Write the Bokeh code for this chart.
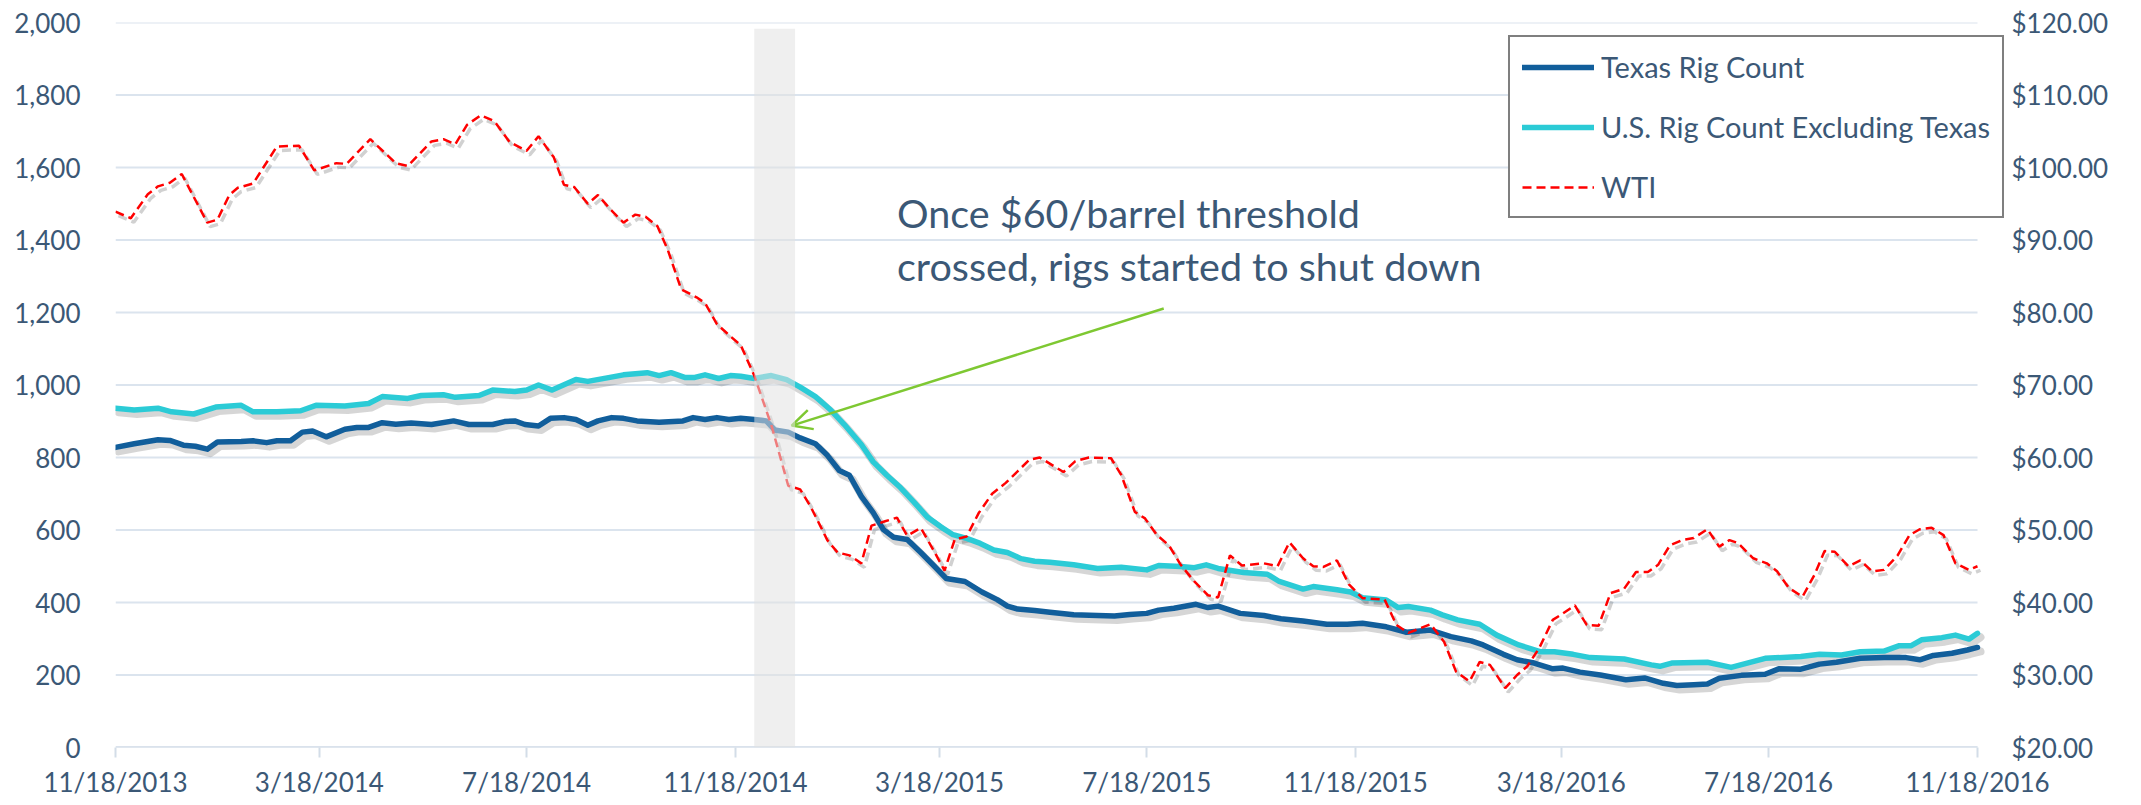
import pandas as pd
from bokeh.plotting import figure
from bokeh.models import (Range1d, LinearAxis, FixedTicker, NumeralTickFormatter,
                          Legend, LegendItem, Label, Arrow, OpenHead, BoxAnnotation)
from bokeh.embed import file_html
from bokeh.resources import INLINE

# ---------------- data ----------------
texas_dates = ["2013-11-18","2013-11-29","2013-12-13","2013-12-20","2013-12-28","2014-01-04","2014-01-11","2014-01-17",
               "2014-01-31","2014-02-07","2014-02-15","2014-02-21","2014-03-01","2014-03-08","2014-03-14","2014-03-22",
               "2014-04-02","2014-04-09","2014-04-16","2014-04-24","2014-05-02","2014-05-11","2014-05-23","2014-06-05",
               "2014-06-14","2014-06-28","2014-07-05","2014-07-11","2014-07-17","2014-07-25","2014-08-01","2014-08-09",
               "2014-08-16","2014-08-23","2014-08-29","2014-09-06","2014-09-13","2014-09-21","2014-10-04","2014-10-18",
               "2014-10-24","2014-10-31","2014-11-07","2014-11-14","2014-11-21","2014-11-29","2014-12-06","2014-12-11",
               "2014-12-19","2014-12-26","2015-01-04","2015-01-11","2015-01-18","2015-01-24","2015-01-31","2015-02-07",
               "2015-02-13","2015-02-19","2015-02-27","2015-03-07","2015-03-15","2015-03-22","2015-04-02","2015-04-12",
               "2015-04-21","2015-04-27","2015-05-03","2015-05-13","2015-05-22","2015-06-05","2015-06-19","2015-06-29",
               "2015-07-08","2015-07-18","2015-07-25","2015-08-03","2015-08-16","2015-08-23","2015-08-29","2015-09-11",
               "2015-09-25","2015-10-05","2015-10-18","2015-11-01","2015-11-13","2015-11-22","2015-12-06","2015-12-18",
               "2016-01-01","2016-01-13","2016-01-25","2016-02-01","2016-02-13","2016-02-21","2016-03-02","2016-03-13",
               "2016-03-19","2016-03-29","2016-04-10","2016-04-25","2016-05-06","2016-05-17","2016-05-25","2016-06-04",
               "2016-06-12","2016-06-19","2016-07-02","2016-07-16","2016-07-24","2016-08-06","2016-08-17","2016-08-27",
               "2016-09-10","2016-09-24","2016-10-07","2016-10-15","2016-10-23","2016-11-03","2016-11-12","2016-11-18"]
texas_rigs = [828,838,849,847,834,831,823,843,
              844,846,841,846,846,870,873,857,
              878,883,883,896,892,895,891,901,
              891,891,899,901,891,887,908,910,
              905,889,901,910,908,901,897,901,
              910,905,910,905,908,905,901,876,
              870,854,838,806,764,751,693,648,
              601,580,574,538,500,466,458,429,
              408,390,382,378,373,366,364,363,
              367,370,379,384,395,386,390,370,
              364,355,349,340,340,343,333,318,
              324,306,294,283,257,242,233,217,
              219,208,200,187,192,177,171,173,
              175,191,199,202,217,216,230,235,
              246,248,248,242,254,260,269,276]

usx_dates = ["2013-11-18","2013-11-29","2013-12-13","2013-12-21","2014-01-03","2014-01-16","2014-01-31","2014-02-07",
             "2014-02-21","2014-03-07","2014-03-16","2014-04-02","2014-04-16","2014-04-24","2014-05-09","2014-05-17",
             "2014-05-30","2014-06-06","2014-06-20","2014-06-28","2014-07-11","2014-07-18","2014-07-25","2014-08-02",
             "2014-08-16","2014-08-23","2014-09-05","2014-09-13","2014-09-27","2014-10-04","2014-10-11","2014-10-19",
             "2014-10-25","2014-10-31","2014-11-08","2014-11-15","2014-11-21","2014-11-29","2014-12-09","2014-12-18",
             "2014-12-26","2015-01-04","2015-01-13","2015-01-21","2015-01-31","2015-02-07","2015-02-15","2015-02-23",
             "2015-03-03","2015-03-11","2015-03-19","2015-03-26","2015-04-03","2015-04-11","2015-04-19","2015-04-27",
             "2015-05-05","2015-05-13","2015-05-22","2015-06-05","2015-06-19","2015-07-03","2015-07-18","2015-07-25",
             "2015-08-07","2015-08-15","2015-08-22","2015-08-29","2015-09-13","2015-09-27","2015-10-04","2015-10-18",
             "2015-10-24","2015-11-07","2015-11-15","2015-11-22","2015-12-06","2015-12-13","2015-12-19","2016-01-01",
             "2016-01-08","2016-01-17","2016-01-30","2016-02-09","2016-02-22","2016-03-06","2016-03-14","2016-03-25",
             "2016-04-04","2016-04-24","2016-05-10","2016-05-15","2016-05-22","2016-06-12","2016-06-26","2016-07-16",
             "2016-08-06","2016-08-17","2016-08-30","2016-09-10","2016-09-24","2016-10-03","2016-10-10","2016-10-16",
             "2016-10-28","2016-11-05","2016-11-13","2016-11-18"]
usx_rigs = [936,931,936,926,920,939,944,926,
            926,929,944,942,949,968,963,971,
            973,966,971,986,982,986,1000,986,
            1015,1010,1021,1028,1034,1026,1034,1021,
            1021,1028,1018,1026,1024,1018,1026,1015,
            994,968,931,891,836,788,751,717,
            677,635,608,587,577,563,545,538,
            521,514,511,504,494,497,490,502,
            499,496,504,494,483,478,458,437,
            444,435,429,413,407,386,389,379,
            366,352,340,310,283,264,264,257,
            248,244,228,224,233,235,221,246,
            251,257,255,264,266,281,281,297,
            303,310,299,315]

wti_dates = ["2013-11-18","2013-11-27","2013-12-07","2013-12-13","2013-12-20","2013-12-27","2014-01-11","2014-01-17",
             "2014-01-24","2014-01-29","2014-02-07","2014-02-21","2014-03-06","2014-03-15","2014-03-28","2014-04-03",
             "2014-04-17","2014-05-02","2014-05-09","2014-05-23","2014-05-30","2014-06-06","2014-06-13","2014-06-21",
             "2014-06-29","2014-07-08","2014-07-18","2014-07-25","2014-08-03","2014-08-09","2014-08-15","2014-08-23",
             "2014-08-29","2014-09-05","2014-09-13","2014-09-20","2014-09-26","2014-10-03","2014-10-09","2014-10-17",
             "2014-10-26","2014-10-31","2014-11-07","2014-11-15","2014-11-21","2014-11-29","2014-12-09","2014-12-19",
             "2014-12-26","2015-01-01","2015-01-07","2015-01-11","2015-01-17","2015-01-24","2015-01-31","2015-02-06",
             "2015-02-14","2015-02-21","2015-02-27","2015-03-07","2015-03-15","2015-03-21","2015-03-27","2015-04-03",
             "2015-04-10","2015-04-18","2015-04-26","2015-05-03","2015-05-10","2015-05-16","2015-05-30","2015-06-06",
             "2015-06-14","2015-06-27","2015-07-03","2015-07-11","2015-07-17","2015-07-24","2015-07-31","2015-08-07",
             "2015-08-15","2015-08-23","2015-08-29","2015-09-05","2015-09-12","2015-09-25","2015-10-03","2015-10-10",
             "2015-10-18","2015-10-24","2015-10-30","2015-11-07","2015-11-14","2015-11-22","2015-12-05","2015-12-12",
             "2015-12-19","2016-01-01","2016-01-09","2016-01-16","2016-01-24","2016-01-30","2016-02-05","2016-02-14",
             "2016-02-21","2016-02-27","2016-03-05","2016-03-13","2016-03-19","2016-03-26","2016-04-02","2016-04-09",
             "2016-04-16","2016-04-24","2016-05-01","2016-05-08","2016-05-14","2016-05-21","2016-05-28","2016-06-04",
             "2016-06-12","2016-06-19","2016-06-25","2016-06-30","2016-07-09","2016-07-17","2016-07-23","2016-07-30",
             "2016-08-07","2016-08-14","2016-08-20","2016-08-26","2016-09-03","2016-09-10","2016-09-17","2016-09-24",
             "2016-10-02","2016-10-09","2016-10-15","2016-10-22","2016-10-29","2016-11-05","2016-11-13","2016-11-18"]
wti_price = [93.9,93.0,96.3,97.4,97.9,99.1,92.4,92.8,
             96.2,97.2,97.8,102.9,103.0,99.6,100.6,100.5,
             103.9,100.6,100.2,103.6,103.9,103.2,105.9,107.2,
             106.4,103.5,102.3,104.3,101.4,97.6,97.3,95.0,
             96.2,94.3,92.4,93.5,93.2,91.9,88.7,83.2,
             82.1,81.3,78.4,76.7,75.5,71.3,64.5,56.1,
             55.6,53.3,50.5,48.6,46.9,46.5,45.4,50.6,
             51.2,51.7,49.2,50.3,47.0,44.4,48.7,49.1,
             52.3,55.0,56.5,58.1,59.7,60.0,58.0,59.5,
             60.0,59.9,57.6,52.5,51.6,49.3,47.9,45.2,
             42.9,41.0,40.7,46.5,45.1,45.4,45.0,48.3,
             46.1,45.0,44.9,45.8,42.5,40.6,40.4,36.9,
             35.8,37.0,34.6,30.5,29.1,31.8,31.4,28.2,
             30.0,31.2,33.7,37.6,38.5,39.6,36.9,36.8,
             41.3,41.9,44.2,44.2,45.2,47.9,48.6,48.9,
             50.1,47.7,48.6,48.2,46.1,45.4,44.3,42.0,
             40.8,43.8,47.1,47.0,45.0,45.8,44.3,44.5,
             46.5,49.3,50.1,50.3,49.3,45.4,44.5,45.0]

x_tick_labels = ["11/18/2013", "3/18/2014", "7/18/2014", "11/18/2014", "3/18/2015",
                 "7/18/2015", "11/18/2015", "3/18/2016", "7/18/2016", "11/18/2016"]
rig_ticks = [0, 200, 400, 600, 800, 1000, 1200, 1400, 1600, 1800, 2000]
price_ticks = [20, 30, 40, 50, 60, 70, 80, 90, 100, 110, 120]

series_names = ["Texas Rig Count", "U.S. Rig Count Excluding Texas", "WTI"]
note_lines = ["Once $60/barrel threshold", "crossed, rigs started to shut down"]
band_dates = ["2014-11-29", "2014-12-23"]
arrow_from = ("2015-07-28", 1211)
arrow_to = ("2014-12-21", 888)
note_at = ("2015-02-21", 1477, 1331)

# ---------------- styling ----------------
FONT = "Lato"
TXT = "#3b5876"
GRID = "#dbe4ee"
AXIS = "#d3dde8"
C_TX = "#115e9b"
C_US = "#2bcbd6"
C_WTI = "#ff0000"

def ms(d):
    return pd.Timestamp(d).value // 10**6

tick_ms = [ms(pd.to_datetime(t, format="%m/%d/%Y")) for t in x_tick_labels]
x0, x1 = tick_ms[0], tick_ms[-1]

DATA_W, EXTRA_W, FH = 1862, 28, 725          # plot area + room for the legend overhang
ms_px = (x1 - x0) / DATA_W
x_end = x1 + EXTRA_W * ms_px

p = figure(frame_width=DATA_W + EXTRA_W, frame_height=FH, x_axis_type="datetime",
           x_range=Range1d(x0, x_end), y_range=Range1d(0, 2000),
           output_backend="svg", toolbar_location=None,
           min_border_left=115, min_border_right=134, min_border_top=22, min_border_bottom=56)
p.outline_line_color = None
p.background_fill_color = "white"

# ranges for soft drop shadows (shifted a few pixels right/down)
p.extra_x_ranges = {"shx": Range1d(x0 - 3 * ms_px, x_end - 3 * ms_px)}
p.extra_y_ranges = {"wti": Range1d(20, 120),
                    "shy": Range1d(4 * 2000 / FH, 2000 + 4 * 2000 / FH),
                    "shw": Range1d(20 + 4 * 100 / FH, 120 + 4 * 100 / FH)}

# horizontal gridlines + base line, limited to the data period
p.xgrid.grid_line_color = None
p.ygrid.grid_line_color = None
n = len(rig_ticks)
p.segment(x0=[x0] * n, x1=[x1] * n, y0=rig_ticks, y1=rig_ticks,
          line_color=GRID, line_width=2, level="underlay")
p.segment(x0=[x0], x1=[x1], y0=[rig_ticks[0]], y1=[rig_ticks[0]],
          line_color=AXIS, line_width=2.5, level="underlay")

tx_x = pd.to_datetime(texas_dates)
us_x = pd.to_datetime(usx_dates)
wt_x = pd.to_datetime(wti_dates)

# shadows
p.line(tx_x, texas_rigs, x_range_name="shx", y_range_name="shy", line_color="black",
       line_alpha=0.16, line_width=8, line_join="round", line_cap="round")
p.line(us_x, usx_rigs, x_range_name="shx", y_range_name="shy", line_color="black",
       line_alpha=0.16, line_width=8, line_join="round", line_cap="round")
p.line(wt_x, wti_price, x_range_name="shx", y_range_name="shw", line_color="black",
       line_alpha=0.18, line_width=3.5, line_dash="9 5")

# main series
r_tx = p.line(tx_x, texas_rigs, line_color=C_TX, line_width=5.5, line_join="round", line_cap="round")
r_us = p.line(us_x, usx_rigs, line_color=C_US, line_width=5.5, line_join="round", line_cap="round")
r_wt = p.line(wt_x, wti_price, y_range_name="wti", line_color=C_WTI, line_width=2.5, line_dash="9 5")

# grey highlight band (drawn above lines)
p.add_layout(BoxAnnotation(left=ms(band_dates[0]), right=ms(band_dates[1]), top=1983,
                           fill_color="#e2e2e2", fill_alpha=0.55, line_color=None, level="overlay"))

# left axis
ya = p.yaxis[0]
ya.ticker = FixedTicker(ticks=rig_ticks)
ya.formatter = NumeralTickFormatter(format="0,0")
ya.axis_line_color = None
ya.major_tick_line_color = None
ya.major_tick_out = 0
ya.major_tick_in = 0
ya.minor_tick_line_color = None
ya.major_label_standoff = 35
ya.major_label_text_font = FONT
ya.major_label_text_font_size = "26px"
ya.major_label_text_color = TXT

# right axis
ra = LinearAxis(y_range_name="wti", ticker=FixedTicker(ticks=price_ticks),
                formatter=NumeralTickFormatter(format="$0.00"))
ra.axis_line_color = None
ra.major_tick_line_color = None
ra.major_tick_out = 0
ra.major_tick_in = 0
ra.minor_tick_line_color = None
ra.major_label_standoff = 6
ra.major_label_text_font = FONT
ra.major_label_text_font_size = "26px"
ra.major_label_text_color = TXT
p.add_layout(ra, "right")

# bottom axis
xa = p.xaxis[0]
xa.ticker = FixedTicker(ticks=tick_ms)
xa.major_label_overrides = {t: lab for t, lab in zip(tick_ms, x_tick_labels)}
xa.axis_line_color = None
xa.major_tick_line_color = AXIS
xa.major_tick_line_width = 2
xa.major_tick_in = 0
xa.major_tick_out = 10
xa.minor_tick_line_color = None
xa.major_label_standoff = 8
xa.major_label_text_font = FONT
xa.major_label_text_font_size = "26px"
xa.major_label_text_color = TXT

# annotation text and arrow
for y_txt, line_txt in zip(note_at[1:], note_lines):
    p.add_layout(Label(x=ms(note_at[0]), y=y_txt, text=line_txt, text_font=FONT,
                       text_font_size="39.5px", text_color=TXT, text_baseline="alphabetic"))
p.add_layout(Arrow(end=OpenHead(size=20, line_color="#7ec832", line_width=2.5),
                   x_start=ms(arrow_from[0]), y_start=arrow_from[1],
                   x_end=ms(arrow_to[0]), y_end=arrow_to[1],
                   line_color="#7ec832", line_width=2.5))

# legend
legend = Legend(items=[LegendItem(label=series_names[0], renderers=[r_tx]),
                       LegendItem(label=series_names[1], renderers=[r_us]),
                       LegendItem(label=series_names[2], renderers=[r_wt])],
                location=(1393, 529))
legend.label_text_font = FONT
legend.label_text_font_size = "29px"
legend.label_text_color = TXT
legend.glyph_width = 72
legend.glyph_height = 30
legend.label_standoff = 7
legend.spacing = 25
legend.padding = 12
legend.margin = 0
legend.border_line_color = "black"
legend.border_line_width = 2
legend.background_fill_color = "white"
legend.background_fill_alpha = 1
p.add_layout(legend, "center")

open("out.html", "w").write(file_html(p, INLINE))
